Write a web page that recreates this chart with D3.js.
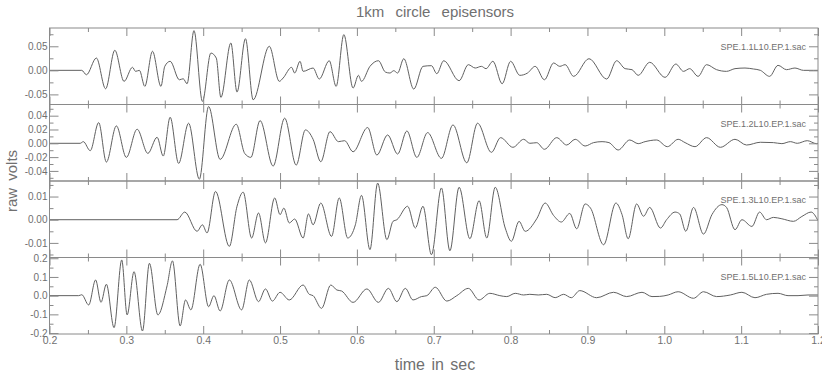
<!DOCTYPE html>
<html>
<head>
<meta charset="utf-8">
<script src="https://cdn.jsdelivr.net/npm/d3@7/dist/d3.min.js"></script>
<style>
  html, body { margin: 0; padding: 0; background: #fff; }
  svg text { font-family: "Liberation Sans", Arial, "DejaVu Sans", sans-serif; fill: #707070; }
</style>
</head>
<body>
<svg id="chart" width="822" height="377"></svg>
<script>
// Station file names, one per trace (top to bottom)
const stations = ["SPE.1.1L10.EP.1.sac", "SPE.1.2L10.EP.1.sac", "SPE.1.3L10.EP.1.sac", "SPE.1.5L10.EP.1.sac"];

// Traces: [time in sec, raw volts], sampled at the turning points of each waveform
const trace1 = [[0.2,0],[0.242,0],[0.248,-0.0092],[0.261,0.0256],[0.273,-0.0383],[0.285,0.0417],[0.297,-0.0229],[0.308,0.0063],[0.312,-0.0021],[0.317,0],[0.324,-0.0333],[0.334,0.0396],[0.345,-0.0333],[0.350,0.0083],[0.357,0.0188],[0.369,-0.0196],[0.374,-0.0175],[0.379,-0.0279],[0.388,0.0825],[0.399,-0.0646],[0.410,0.036],[0.417,0.0256],[0.423,-0.0563],[0.436,0.0569],[0.444,-0.0452],[0.455,0.0658],[0.465,-0.0612],[0.486,0.05],[0.499,-0.0229],[0.504,-0.016],[0.515,0.0063],[0.519,-0.0056],[0.526,0.0188],[0.530,-0.0021],[0.543,0.0048],[0.551,-0.0181],[0.564,0.02],[0.573,-0.0333],[0.583,0.0742],[0.595,-0.0369],[0.602,-0.0104],[0.606,-0.0229],[0.617,0.0083],[0.628,0.02],[0.637,-0.0035],[0.643,-0.0056],[0.648,-0.0007],[0.653,-0.0056],[0.661,0.0242],[0.674,-0.039],[0.686,0.0083],[0.697,0.0097],[0.704,-0.0069],[0.713,0.02],[0.733,-0.0216],[0.745,0.0118],[0.754,0.0048],[0.762,0.0083],[0.768,0.0035],[0.777,0.0188],[0.789,-0.0279],[0.800,0.0188],[0.812,-0.0104],[0.822,-0.0056],[0.832,0.0083],[0.844,-0.0196],[0.856,0.0153],[0.864,0.0083],[0.871,0.0118],[0.882,-0.0125],[0.902,0.0242],[0.925,-0.0181],[0.938,0.02],[0.949,0.0035],[0.958,0.0014],[0.966,-0.0104],[0.981,0.0167],[1.001,-0.0146],[1.015,0.0131],[1.025,-0.0021],[1.033,0.0035],[1.044,-0.0125],[1.055,0.0118],[1.068,0.0014],[1.081,-0.0021],[1.092,0.0035],[1.105,0.0048],[1.116,0.0028],[1.125,0],[1.137,-0.0125],[1.148,0.0104],[1.159,0.0014],[1.170,0.0048],[1.181,0],[1.194,0],[1.2,0]];

const trace2 = [[0.2,0],[0.24,0],[0.244,0.0024],[0.253,-0.0107],[0.264,0.030],[0.274,-0.0272],[0.287,0.0252],[0.300,-0.0204],[0.314,0.0204],[0.328,-0.0146],[0.340,0.0087],[0.348,-0.0185],[0.357,0.0378],[0.368,-0.0291],[0.381,0.0291],[0.395,-0.052],[0.407,0.0533],[0.422,-0.0233],[0.443,0.0276],[0.454,-0.0146],[0.462,-0.0204],[0.474,0.0329],[0.491,-0.033],[0.506,0.0364],[0.521,-0.0316],[0.533,0.0194],[0.543,0.0058],[0.553,-0.0267],[0.565,0.0169],[0.576,0.0024],[0.584,0.0038],[0.595,-0.0122],[0.614,0.0228],[0.626,-0.017],[0.640,0.0121],[0.653,-0.0156],[0.665,0.0179],[0.678,-0.0204],[0.692,0.0155],[0.710,-0.0218],[0.725,0.0266],[0.743,-0.0282],[0.757,0.0291],[0.775,-0.0131],[0.787,0.0082],[0.803,-0.0058],[0.817,0.0058],[0.825,0],[0.834,0.0009],[0.844,-0.0087],[0.860,0.0082],[0.873,-0.0025],[0.884,0.0058],[0.897,-0.0039],[0.908,0.001],[0.919,0.0024],[0.928,0.001],[0.940,-0.0097],[0.955,0.0048],[0.966,-0.0005],[0.975,0.0024],[0.990,0.0048],[1.004,-0.0049],[1.018,0.0058],[1.027,0.001],[1.040,-0.0049],[1.055,0.0082],[1.073,-0.0058],[1.092,0.0058],[1.107,-0.0025],[1.125,0.0015],[1.142,0.001],[1.153,-0.0005],[1.164,0.0024],[1.173,0],[1.186,0.0038],[1.198,-0.0005],[1.2,0]];

const trace3 = [[0.2,0],[0.366,0],[0.376,0.0033],[0.392,-0.005],[0.399,-0.0022],[0.405,-0.0057],[0.416,0.0122],[0.434,-0.0115],[0.444,0.0058],[0.452,0.0119],[0.463,-0.0079],[0.472,0.0029],[0.481,-0.01],[0.493,0.0094],[0.500,0.0022],[0.505,0.005],[0.512,-0.0014],[0.519,0.0003],[0.530,-0.0079],[0.537,0.0025],[0.543,-0.0022],[0.553,0.0072],[0.567,-0.0072],[0.577,0.0094],[0.588,-0.0079],[0.598,-0.0022],[0.606,0.0105],[0.617,-0.0129],[0.627,0.0158],[0.639,-0.0086],[0.647,-0.0007],[0.652,0],[0.666,0.0058],[0.676,-0.0036],[0.686,0.0058],[0.697,-0.0151],[0.710,0.0137],[0.721,-0.0134],[0.733,0.014],[0.747,-0.0082],[0.759,0.0082],[0.769,-0.0079],[0.780,0.014],[0.793,-0.0036],[0.801,-0.0093],[0.811,-0.0007],[0.819,-0.005],[0.834,0.0004],[0.845,0.0072],[0.856,0.0018],[0.866,-0.001],[0.877,0.0027],[0.886,-0.0039],[0.897,0.0068],[0.904,0.005],[0.921,-0.0108],[0.937,0.0072],[0.945,0.0022],[0.953,-0.0082],[0.964,0.0068],[0.973,0.0015],[0.981,0.0053],[0.995,-0.0036],[1.003,0],[1.014,0.0033],[1.020,0.0025],[1.028,-0.005],[1.038,0.0053],[1.051,-0.0062],[1.062,0.0022],[1.075,0.0065],[1.081,0.0053],[1.092,-0.0043],[1.101,0],[1.114,-0.0029],[1.124,0.0033],[1.133,0],[1.142,0.001],[1.153,0.0004],[1.168,-0.0007],[1.179,0.0014],[1.191,0.0033],[1.2,-0.0004]];

const trace4 = [[0.2,0],[0.238,0],[0.242,0.005],[0.251,-0.0497],[0.260,0.084],[0.267,-0.0355],[0.274,0.061],[0.284,-0.171],[0.294,0.191],[0.301,-0.103],[0.310,0.128],[0.321,-0.189],[0.330,0.173],[0.341,-0.103],[0.353,0.053],[0.360,0.186],[0.370,-0.162],[0.377,-0.023],[0.384,-0.076],[0.396,0.168],[0.407,-0.059],[0.414,0],[0.422,-0.082],[0.434,0.084],[0.450,-0.076],[0.460,0.084],[0.472,-0.032],[0.481,0.036],[0.490,-0.029],[0.500,0.018],[0.512,-0.023],[0.530,0.057],[0.538,0.0071],[0.543,0],[0.554,-0.068],[0.566,0.057],[0.574,0.030],[0.580,0.025],[0.595,-0.036],[0.613,0.036],[0.628,-0.036],[0.641,0.039],[0.652,-0.032],[0.663,0.039],[0.673,-0.023],[0.684,-0.005],[0.691,0],[0.702,0.045],[0.717,-0.029],[0.730,0],[0.745,0.039],[0.759,-0.023],[0.773,0.0125],[0.786,0],[0.795,-0.005],[0.806,0.0125],[0.817,0.0036],[0.825,0.0071],[0.836,0.0036],[0.847,0.0071],[0.858,-0.0107],[0.869,0.0071],[0.879,-0.011],[0.890,0.027],[0.912,-0.011],[0.934,0.018],[0.951,-0.005],[0.971,0.018],[0.984,-0.005],[0.994,-0.004],[1.005,0.0036],[1.018,0.021],[1.038,-0.014],[1.051,0.021],[1.068,-0.005],[1.086,0.0036],[1.101,0.018],[1.118,-0.011],[1.133,0.0071],[1.148,0.0125],[1.161,0],[1.174,0],[1.187,0.0036],[1.2,0.0036]];

const traces = [trace1, trace2, trace3, trace4];

// Vertical extent of each trace window (raw volts)
const yLimits = [[-0.071, 0.088], [-0.0546, 0.0562], [-0.0163, 0.0167], [-0.205, 0.204]];

// Labelled and minor volt ticks per window
const yMajorTicks = [[-0.05, 0, 0.05], [-0.04, -0.02, 0, 0.02, 0.04], [-0.01, 0, 0.01], [-0.2, -0.1, 0, 0.1, 0.2]];
const yMajorLabels = [["-0.05", "0.00", "0.05"], ["-0.04", "-0.02", "0.00", "0.02", "0.04"], ["-0.01", "0.00", "0.01"], ["-0.2", "-0.1", "0.0", "0.1", "0.2"]];
const yMinorTicks = [[-0.025, 0.025, 0.075], [-0.05, -0.03, -0.01, 0.01, 0.03, 0.05], [-0.015, -0.005, 0.005, 0.015], [-0.15, -0.05, 0.05, 0.15]];

// Time axis
const timeDomain = [0.2, 1.2];
const timeMajorTicks = [0.2, 0.3, 0.4, 0.5, 0.6, 0.7, 0.8, 0.9, 1.0, 1.1, 1.2];
const timeMajorLabels = ["0.2", "0.3", "0.4", "0.5", "0.6", "0.7", "0.8", "0.9", "1.0", "1.1", "1.2"];
const timeMinorTicks = [0.25, 0.35, 0.45, 0.55, 0.65, 0.75, 0.85, 0.95, 1.05, 1.15];

const titleText = "1km circle episensors";
const xTitle = "time in sec";
const yTitle = "raw volts";

// ---- layout ----
const plotLeft = 49.5, plotRight = 818, plotTop = 28, plotBottom = 334;
const panelH = (plotBottom - plotTop) / traces.length;
const axisColor = "#8a8a8a", traceColor = "#606060", textColor = "#707070";

const svg = d3.select("#chart");
const x = d3.scaleLinear().domain(timeDomain).range([plotLeft, plotRight]);

svg.append("text")
  .attr("x", 435).attr("y", 17)
  .attr("text-anchor", "middle")
  .attr("font-size", 15)
  .attr("word-spacing", 7)
  .text(titleText);

svg.append("text")
  .attr("x", 435).attr("y", 370)
  .attr("text-anchor", "middle")
  .attr("font-size", 16)
  .attr("word-spacing", 2)
  .text(xTitle);

svg.append("text")
  .attr("transform", `translate(17,${(plotTop + plotBottom) / 2}) rotate(-90)`)
  .attr("text-anchor", "middle")
  .attr("font-size", 15)
  .attr("word-spacing", 3)
  .text(yTitle);

const defs = svg.append("defs");

function styleAxis(g) {
  g.select(".domain").remove();
  g.selectAll("line").attr("stroke", axisColor);
  g.selectAll("text").attr("fill", textColor).attr("font-family", null);
}

traces.forEach((trace, i) => {
  const y0 = plotTop + i * panelH, y1 = y0 + panelH;
  const y = d3.scaleLinear().domain(yLimits[i]).range([y1, y0]);
  const g = svg.append("g");
  const minor = yMinorTicks[i].filter(v => v > yLimits[i][0] && v < yLimits[i][1]);

  defs.append("clipPath").attr("id", "clip" + i)
    .append("rect").attr("x", plotLeft).attr("y", y0).attr("width", plotRight - plotLeft).attr("height", panelH);

  // waveform
  const line = d3.line()
    .x(d => x(d[0]))
    .y(d => y(d[1]))
    .curve(d3.curveMonotoneX);
  g.append("path")
    .datum(trace)
    .attr("clip-path", `url(#clip${i})`)
    .attr("fill", "none")
    .attr("stroke", traceColor)
    .attr("stroke-width", 1)
    .attr("d", line);

  // left axis with labels, ticks pointing inward
  g.append("g").attr("transform", `translate(${plotLeft},0)`)
    .call(d3.axisLeft(y).tickValues(yMajorTicks[i]).tickSizeInner(-9).tickSizeOuter(0).tickPadding(2)
      .tickFormat((d, k) => yMajorLabels[i][k]))
    .call(styleAxis)
    .selectAll("text").attr("font-size", 10);
  g.append("g").attr("transform", `translate(${plotLeft},0)`)
    .call(d3.axisLeft(y).tickValues(minor).tickSizeInner(-4).tickSizeOuter(0).tickFormat(""))
    .call(styleAxis);

  // right axis, ticks only
  g.append("g").attr("transform", `translate(${plotRight},0)`)
    .call(d3.axisRight(y).tickValues(yMajorTicks[i]).tickSizeInner(-9).tickSizeOuter(0).tickFormat(""))
    .call(styleAxis);
  g.append("g").attr("transform", `translate(${plotRight},0)`)
    .call(d3.axisRight(y).tickValues(minor).tickSizeInner(-4).tickSizeOuter(0).tickFormat(""))
    .call(styleAxis);

  // time ticks on top and bottom edges of the window
  g.append("g").attr("transform", `translate(0,${y0})`)
    .call(d3.axisTop(x).tickValues(timeMajorTicks).tickSizeInner(-8).tickSizeOuter(0).tickFormat(""))
    .call(styleAxis);
  g.append("g").attr("transform", `translate(0,${y0})`)
    .call(d3.axisTop(x).tickValues(timeMinorTicks).tickSizeInner(-4).tickSizeOuter(0).tickFormat(""))
    .call(styleAxis);
  const isLast = i === traces.length - 1;
  g.append("g").attr("transform", `translate(0,${y1})`)
    .call(d3.axisBottom(x).tickValues(timeMajorTicks).tickSizeInner(-8).tickSizeOuter(0).tickPadding(3)
      .tickFormat((d, k) => isLast ? timeMajorLabels[k] : ""))
    .call(styleAxis)
    .selectAll("text").attr("font-size", 10.5);
  g.append("g").attr("transform", `translate(0,${y1})`)
    .call(d3.axisBottom(x).tickValues(timeMinorTicks).tickSizeInner(-4).tickSizeOuter(0).tickFormat(""))
    .call(styleAxis);

  // window frame
  g.append("rect")
    .attr("x", plotLeft).attr("y", y0).attr("width", plotRight - plotLeft).attr("height", panelH)
    .attr("fill", "none").attr("stroke", axisColor).attr("stroke-width", 1);

  // station label
  g.append("text")
    .attr("x", 806).attr("y", y0 + 22)
    .attr("text-anchor", "end")
    .attr("font-size", 9)
    .text(stations[i]);
});
</script>
</body>
</html>
